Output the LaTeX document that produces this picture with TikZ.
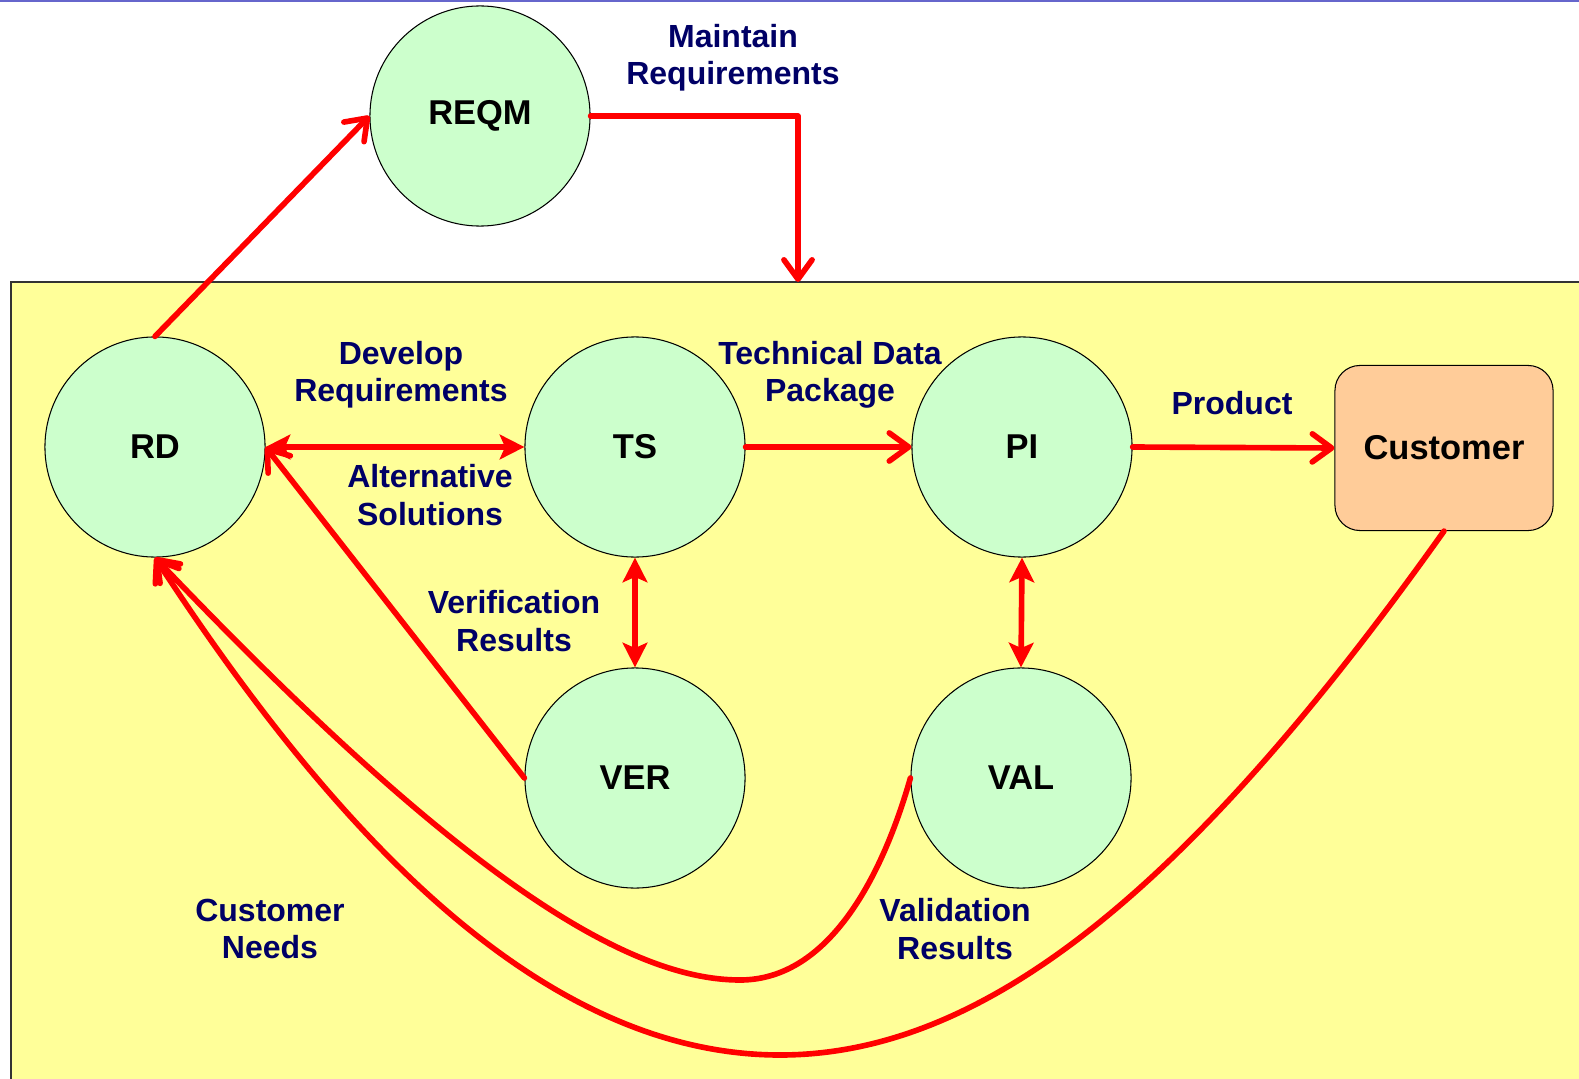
\documentclass[tikz,border=0pt]{standalone}
\usepackage{fontspec}
\setmainfont{Liberation Sans}
\usetikzlibrary{arrows.meta}
\definecolor{procgreen}{RGB}{204,255,204}
\definecolor{areayellow}{RGB}{255,255,153}
\definecolor{custorange}{RGB}{255,204,153}
\definecolor{lblblue}{RGB}{0,0,102}
\definecolor{topblue}{RGB}{102,102,204}
\begin{document}
\begin{tikzpicture}[x=0.01cm,y=-0.01cm,
	proc/.style={circle,draw,line width=0.3pt,fill=procgreen,minimum size=2.2cm,inner sep=0pt,font=\fontsize{9.8}{11}\selectfont\bfseries},
	flow/.style={red,line width=1.6pt,line cap=round,line join=round,-{Straight Barb[length=5.5pt,width=8pt,round]}},
	both/.style={red,line width=1.6pt,{Stealth[length=7pt,width=7pt,inset=1.5pt]}-{Stealth[length=7pt,width=7pt,inset=1.5pt]}},
	lbl/.style={text=lblblue,align=center,inner sep=0pt,font=\fontsize{9.1}{10.6}\selectfont\bfseries}]
	\useasboundingbox (0,0) rectangle (1579,1079);
	\clip (0,0) rectangle (1579,1079);
	\draw[topblue,line width=0.8pt] (0,1) -- (1579,1);
	\filldraw[fill=areayellow,draw=black!80,line width=0.4pt] (11,282) rectangle (1620,1120);
	\node[proc] (REQM) at (480,116) {REQM};
	\node[proc] (RD) at (155,447) {RD};
	\node[proc] (TS) at (635,447) {TS};
	\node[proc] (PI) at (1022,447) {PI};
	\node[proc] (VER) at (635,778) {VER};
	\node[proc] (VAL) at (1021,778) {VAL};
	\node[draw,line width=0.3pt,fill=custorange,rounded corners=0.25cm,minimum width=2.18cm,minimum height=1.65cm,font=\fontsize{9.8}{11}\selectfont\bfseries] (Customer) at (1444,448) {Customer};
	\coordinate (drop) at (798,282);
	\draw[flow] (RD.north) -- (REQM.west);
	\draw[flow] (REQM.east) -| (drop);
	\draw[both] (RD.east) -- (TS.west);
	\draw[flow] (TS.east) -- (PI.west);
	\draw[flow] (PI.east) -- (Customer.west);
	\draw[both] (TS.south) -- (VER.north);
	\draw[both] (PI.south) -- (VAL.north);
	\draw[flow] (VER.west) -- (RD.east);
	\draw[flow] (VAL.west) .. controls (883,874) and (830,980) .. (740,980) .. controls (620,980) and (446,863) .. (RD.south);
	\draw[flow] (Customer.south) .. controls (1184,897) and (980,1055) .. (780,1055) .. controls (530,1055) and (320,810) .. (RD.south);
	\node[lbl] (maintain) at (733,58) {Maintain\\Requirements};
	\node[lbl] (develop) at (401,375) {Develop\\Requirements};
	\node[lbl] (altsol) at (430,495) {Alternative\\Solutions};
	\node[lbl] (tdp) at (830,375) {Technical Data\\Package};
	\node[lbl] (product) at (1232,403) {Product};
	\node[lbl] (verres) at (514,621) {Verification\\Results};
	\node[lbl] (custneeds) at (270,929) {Customer\\Needs};
	\node[lbl] (valres) at (955,929) {Validation\\Results};
\end{tikzpicture}
\end{document}
